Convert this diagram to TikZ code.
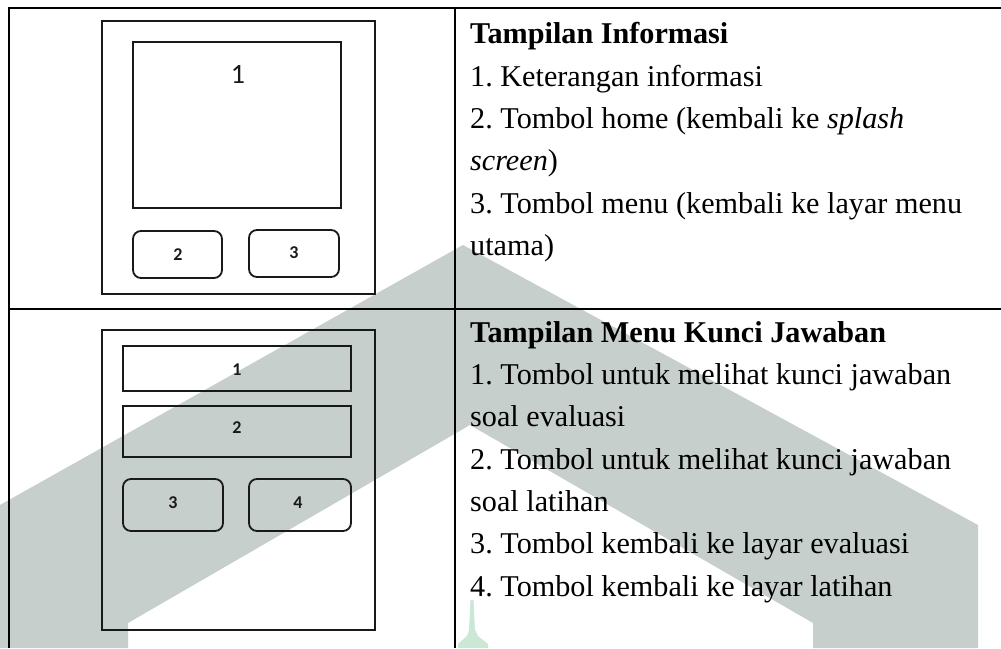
\documentclass[tikz,border=0pt]{standalone}
\usepackage{fontspec}
\setmainfont{Liberation Serif}
\newfontfamily\wfont{Carlito}
\definecolor{wmgray}{RGB}{198,207,204}
\definecolor{wmmint}{RGB}{203,232,214}
\definecolor{ink}{RGB}{25,25,25}
\frenchspacing
\begin{document}
\begin{tikzpicture}[x=1pt,y=-1pt,
  tline/.style={line width=1.3pt,black},
  frame/.style={line width=2pt,ink},
  btn/.style={line width=1.8pt,ink,rounded corners=8pt},
  bigno/.style={font=\wfont\fontsize{28}{28}\selectfont,inner sep=0pt,ink},
  smallno/.style={font=\wfont\bfseries\fontsize{18}{18}\selectfont,inner sep=0pt,ink},
  txt/.style={anchor=base west,inner sep=0pt,font=\fontsize{30.2}{42}\selectfont},
  head/.style={txt,font=\bfseries\fontsize{30.2}{42}\selectfont}]
\useasboundingbox (0,0) rectangle (1001,648);
\fill[white] (0,0) rectangle (1001,648);
% watermark
\fill[wmgray] (0,505) -- (463,245) -- (978,525) -- (978,648) -- (813,648) -- (813,623)
  -- (470,425) -- (128,623) -- (128,648) -- (0,648) -- cycle;
\fill[wmmint] (470.5,600) -- (473.5,600) -- (475,630) -- (478,636) -- (488,644) -- (488,648)
  -- (458,648) -- (458,644) -- (467,636) -- (469,630) -- cycle;
% table lines
\coordinate (tl) at (9,8);
\coordinate (tr) at (1001,8);
\coordinate (bl) at (9,648);
\coordinate (ml) at (9,309);
\coordinate (mr) at (1001,309);
\coordinate (ct) at (455,8);
\coordinate (cb) at (455,648);
\draw[tline] (tr) -- (tl) -- (bl);
\draw[tline] (ml) -- (mr);
\draw[tline] (ct) -- (cb);
% wireframe 1
\draw[frame] (102,21) rectangle (375,294);
\draw[frame] (133,42) rectangle (341,208);
\node[bigno] (w1n1) at (238,74) {1};
\draw[btn] (133,231) rectangle (222,278);
\node[smallno] (w1n2) at (178,255) {2};
\draw[btn] (249,230) rectangle (339,277);
\node[smallno] (w1n3) at (294,253) {3};
% wireframe 2
\draw[frame] (102,330) rectangle (375,630);
\draw[frame] (123,346) rectangle (351,391);
\node[smallno] (w2n1) at (237,370) {1};
\draw[frame] (123,406) rectangle (351,457);
\node[smallno] (w2n2) at (237,428) {2};
\draw[btn] (123,479) rectangle (223,531);
\node[smallno] (w2n3) at (173,503) {3};
\draw[btn] (249,479) rectangle (351,531);
\node[smallno] (w2n4) at (298,503) {4};
% text row 1
\node[head] (h1) at (470,43) {Tampilan Informasi};
\node[txt] (a1) at (470,86) {1. Keterangan informasi};
\node[txt] (a2) at (470,128) {2. Tombol home (kembali ke \textit{splash}};
\node[txt] (a3) at (470,170) {\textit{screen})};
\node[txt] (a4) at (470,213) {3. Tombol menu (kembali ke layar menu};
\node[txt] (a5) at (470,255) {utama)};
% text row 2
\node[head] (h2) at (470,342) {Tampilan Menu Kunci Jawaban};
\node[txt] (b1) at (470,384) {1. Tombol untuk melihat kunci jawaban};
\node[txt] (b2) at (470,426) {soal evaluasi};
\node[txt] (b3) at (470,469) {2. Tombol untuk melihat kunci jawaban};
\node[txt] (b4) at (470,511) {soal latihan};
\node[txt] (b5) at (470,553) {3. Tombol kembali ke layar evaluasi};
\node[txt] (b6) at (470,596) {4. Tombol kembali ke layar latihan};
\end{tikzpicture}
\end{document}
